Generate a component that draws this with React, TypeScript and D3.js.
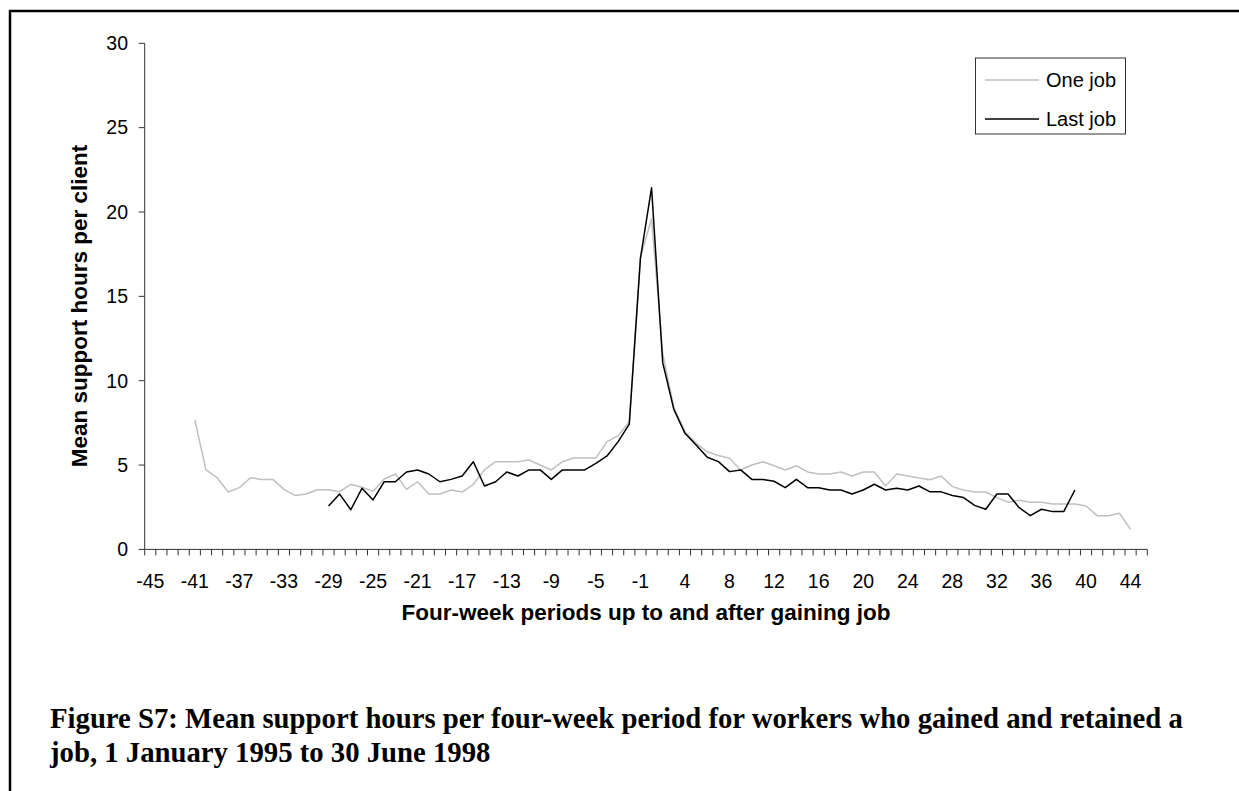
import React, { useLayoutEffect, useRef, useState } from "react";
import * as d3 from "d3";

const categories: number[] = [
  ...d3.range(-45, 0),
  ...d3.range(1, 46),
];

const oneJob: (number | null)[] = [
  null, null, null, null, 7.67, 4.71, 4.25, 3.4, 3.66, 4.25,
  4.15, 4.15, 3.56, 3.19, 3.28, 3.54, 3.54, 3.42, 3.86, 3.68,
  3.44, 4.17, 4.47, 3.56, 4.01, 3.28, 3.28, 3.52, 3.4, 3.86,
  4.71, 5.2, 5.2, 5.2, 5.3, 5.0, 4.71, 5.2, 5.42, 5.42,
  5.42, 6.39, 6.74, 7.57, 17.3, 19.6, 11.6, 8.4, 6.98, 6.29,
  5.79, 5.57, 5.4, 4.71, 5.0, 5.2, 4.96, 4.71, 4.96, 4.59,
  4.47, 4.47, 4.59, 4.35, 4.59, 4.59, 3.76, 4.47, 4.35, 4.23,
  4.13, 4.35, 3.72, 3.52, 3.4, 3.4, 3.07, 2.8, 2.92, 2.8,
  2.8, 2.69, 2.69, 2.69, 2.57, 2.0, 2.0, 2.14, 1.19, null,
];

const lastJob: (number | null)[] = [
  null, null, null, null, null, null, null, null, null, null,
  null, null, null, null, null, null, 2.57, 3.28, 2.35, 3.62,
  2.93, 4.01, 4.01, 4.59, 4.71, 4.47, 4.01, 4.15, 4.35, 5.2,
  3.76, 4.01, 4.59, 4.35, 4.71, 4.71, 4.15, 4.71, 4.71, 4.71,
  5.1, 5.54, 6.39, 7.43, 17.25, 21.44, 11.07, 8.3, 6.88, 6.19,
  5.46, 5.2, 4.61, 4.71, 4.15, 4.15, 4.04, 3.66, 4.15, 3.66,
  3.66, 3.52, 3.52, 3.28, 3.52, 3.86, 3.52, 3.62, 3.52, 3.76,
  3.41, 3.41, 3.2, 3.07, 2.61, 2.38, 3.28, 3.28, 2.47, 2.0,
  2.38, 2.24, 2.24, 3.52, null, null, null, null, null, null,
];

const yTicks: number[] = [0, 5, 10, 15, 20, 25, 30];
const xTickLabels: number[] = categories.filter((_, i) => i % 4 === 0 && i <= 88);

const seriesNames = ["One job", "Last job"];
const seriesColors = ["#c0c0c0", "#000000"];

const captionLine1 =
  "Figure S7: Mean support hours per four-week period for workers who gained and retained a";
const captionLine2 = "job, 1 January 1995 to 30 June 1998";

const sansFont = "'Liberation Sans', Arial, sans-serif";
const serifFont = "'Liberation Serif', 'Times New Roman', serif";

export default function App() {
  const W = 1239;
  const H = 791;
  const x0 = 144.7;
  const x1 = 1147.3;
  const yTop = 43.3;
  const yBot = 549.4;

  const x = d3
    .scaleBand<number>()
    .domain(categories)
    .range([x0, x1])
    .paddingInner(0)
    .paddingOuter(0);
  const bw = x.bandwidth();
  const y = d3.scaleLinear().domain([0, 30]).range([yBot, yTop]);

  const cx = (c: number) => (x(c) as number) + bw / 2;

  const line = d3
    .line<number | null>()
    .defined((d) => d != null)
    .x((_, i) => cx(categories[i]))
    .y((d) => y(d as number));

  const capRef = useRef<SVGTextElement>(null);
  const [capSize, setCapSize] = useState(25);
  useLayoutEffect(() => {
    if (capRef.current) {
      const w = capRef.current.getComputedTextLength();
      if (w > 0) setCapSize((s) => (s * 1133) / w);
    }
  }, []);

  const boundaries = d3.range(0, categories.length + 1).map((i) => x0 + i * bw);

  return (
    <svg
      width={W}
      height={H}
      style={{ position: "absolute", left: 0, top: 0, background: "#fff" }}
    >
      <rect x={0} y={0} width={W} height={H} fill="#fff" />
      {/* outer frame */}
      <rect x={10} y={11} width={1400} height={1000} fill="none" stroke="#000" strokeWidth={2.5} />

      {/* y axis */}
      <line x1={x0} x2={x0} y1={yTop} y2={yBot} stroke="#333" strokeWidth={1} />
      {yTicks.map((t) => (
        <g key={"yt" + t}>
          <line x1={x0 - 6} x2={x0} y1={y(t)} y2={y(t)} stroke="#333" strokeWidth={1} />
          <text
            x={128}
            y={y(t)}
            dy="0.35em"
            textAnchor="end"
            fontFamily={sansFont}
            fontSize={19.5}
            fill="#000"
          >
            {t}
          </text>
        </g>
      ))}

      {/* x axis */}
      <line x1={x0} x2={x1} y1={yBot} y2={yBot} stroke="#333" strokeWidth={1} />
      {boundaries.map((bx, i) => (
        <line key={"xt" + i} x1={bx} x2={bx} y1={yBot} y2={yBot + 6} stroke="#333" strokeWidth={1} />
      ))}
      {xTickLabels.map((c) => (
        <text
          key={"xl" + c}
          x={cx(c)}
          y={588}
          textAnchor="middle"
          fontFamily={sansFont}
          fontSize={19.5}
          fill="#000"
        >
          {c}
        </text>
      ))}

      {/* series */}
      <path d={line(oneJob) || ""} fill="none" stroke={seriesColors[0]} strokeWidth={1.5} strokeLinejoin="round" />
      <path d={line(lastJob) || ""} fill="none" stroke={seriesColors[1]} strokeWidth={1.5} strokeLinejoin="round" />

      {/* axis titles */}
      <text
        x={(x0 + x1) / 2}
        y={620}
        textAnchor="middle"
        fontFamily={sansFont}
        fontWeight="bold"
        fontSize={22.5}
        fill="#000"
      >
        Four-week periods up to and after gaining job
      </text>
      <text
        transform={`translate(87,306) rotate(-90)`}
        textAnchor="middle"
        fontFamily={sansFont}
        fontWeight="bold"
        fontSize={22.5}
        fill="#000"
      >
        Mean support hours per client
      </text>

      {/* legend */}
      <rect x={975.5} y={58} width={150} height={76} fill="#fff" stroke="#333" strokeWidth={1} />
      {seriesNames.map((n, i) => (
        <g key={n}>
          <line
            x1={985}
            x2={1039}
            y1={80 + i * 39}
            y2={80 + i * 39}
            stroke={seriesColors[i]}
            strokeWidth={1.5}
          />
          <text
            x={1046}
            y={80 + i * 39}
            dy="0.35em"
            fontFamily={sansFont}
            fontSize={20}
            fill="#000"
          >
            {n}
          </text>
        </g>
      ))}

      {/* caption */}
      <text ref={capRef} x={50} y={728} fontFamily={serifFont} fontWeight="bold" fontSize={capSize} fill="#000">
        {captionLine1}
      </text>
      <text x={50} y={762} fontFamily={serifFont} fontWeight="bold" fontSize={capSize} fill="#000">
        {captionLine2}
      </text>
    </svg>
  );
}
